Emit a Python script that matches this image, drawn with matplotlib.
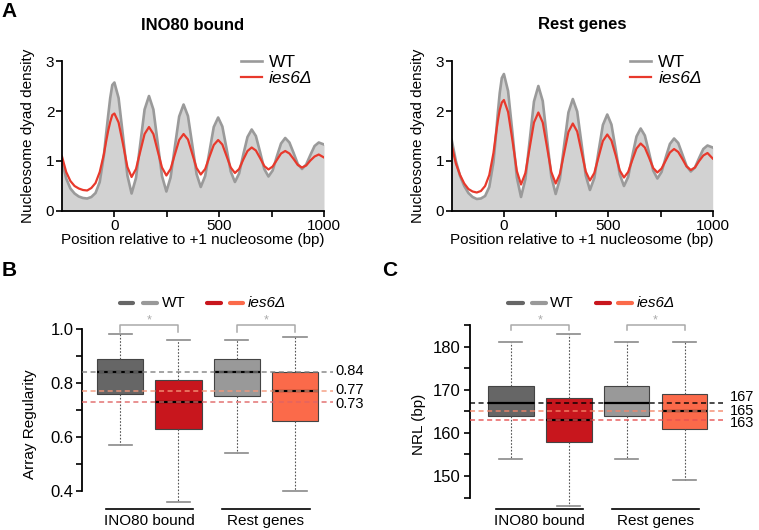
import numpy as np
import matplotlib.pyplot as plt

plt.rcParams['font.family'] = ['Liberation Sans', 'DejaVu Sans']

# --- Panel A: nucleosome dyad density profiles ---
x_bp = [-250, -230, -210, -190, -170, -150, -130, -110, -90, -70, -50, -40, -30, -20, -10, 0,
        20, 41, 62, 82, 103, 124, 144, 165,
        186, 206, 227, 248, 268, 289, 309, 330,
        351, 371, 392, 412, 433, 454, 474, 495,
        515, 535, 555, 575, 595, 615, 635, 655,
        675, 695, 715, 735, 755, 775, 795, 815,
        835, 855, 875, 895, 915, 935, 955, 975, 1000]

ino80_wt = [1.00, 0.65, 0.45, 0.35, 0.29, 0.26, 0.25, 0.28, 0.36, 0.58, 1.12, 1.52, 1.90, 2.26, 2.52, 2.57,
            2.26, 1.50, 0.71, 0.35, 0.66, 1.36, 2.03, 2.30,
            2.03, 1.38, 0.70, 0.39, 0.67, 1.30, 1.89, 2.13,
            1.90, 1.34, 0.74, 0.48, 0.70, 1.20, 1.68, 1.87,
            1.69, 1.25, 0.79, 0.58, 0.75, 1.13, 1.48, 1.63,
            1.50, 1.18, 0.84, 0.69, 0.81, 1.09, 1.35, 1.46,
            1.37, 1.16, 0.94, 0.84, 0.93, 1.12, 1.30, 1.37, 1.33]

ino80_ies6 = [1.09, 0.78, 0.60, 0.50, 0.45, 0.42, 0.41, 0.46, 0.56, 0.78, 1.14, 1.38, 1.60, 1.78, 1.92, 1.95,
              1.77, 1.34, 0.88, 0.68, 0.84, 1.20, 1.54, 1.68,
              1.54, 1.21, 0.87, 0.71, 0.84, 1.14, 1.42, 1.54,
              1.43, 1.15, 0.86, 0.73, 0.84, 1.09, 1.32, 1.42,
              1.33, 1.10, 0.87, 0.76, 0.84, 1.03, 1.20, 1.27,
              1.21, 1.06, 0.90, 0.83, 0.89, 1.02, 1.15, 1.20,
              1.15, 1.04, 0.92, 0.87, 0.91, 1.01, 1.09, 1.13, 1.07]

rest_wt = [1.42, 1.00, 0.70, 0.50, 0.36, 0.28, 0.24, 0.25, 0.30, 0.48, 0.98, 1.42, 1.92, 2.36, 2.66, 2.74,
           2.40, 1.56, 0.67, 0.28, 0.64, 1.43, 2.19, 2.50,
           2.20, 1.46, 0.69, 0.34, 0.64, 1.33, 1.97, 2.24,
           1.99, 1.37, 0.71, 0.42, 0.66, 1.21, 1.72, 1.93,
           1.73, 1.24, 0.73, 0.50, 0.68, 1.10, 1.49, 1.65,
           1.51, 1.17, 0.81, 0.65, 0.78, 1.07, 1.34, 1.45,
           1.36, 1.13, 0.90, 0.79, 0.87, 1.06, 1.24, 1.31, 1.27]

rest_ies6 = [1.31, 0.95, 0.72, 0.55, 0.44, 0.39, 0.37, 0.40, 0.50, 0.72, 1.16, 1.48, 1.78, 2.02, 2.17, 2.22,
             1.98, 1.41, 0.80, 0.53, 0.76, 1.28, 1.77, 1.97,
             1.77, 1.29, 0.78, 0.55, 0.74, 1.17, 1.58, 1.75,
             1.59, 1.20, 0.79, 0.61, 0.76, 1.09, 1.40, 1.53,
             1.41, 1.12, 0.81, 0.67, 0.78, 1.02, 1.25, 1.35,
             1.27, 1.07, 0.86, 0.77, 0.85, 1.01, 1.17, 1.24,
             1.18, 1.04, 0.89, 0.82, 0.87, 1.00, 1.11, 1.16, 1.05]

# --- Panels B and C: box statistics (whislo, q1, med, q3, whishi) ---
box_names = ['INO80 WT', 'INO80 ies6', 'Rest WT', 'Rest ies6']
regularity_stats = [[0.57, 0.76, 0.84, 0.89, 0.98],
                    [0.36, 0.63, 0.73, 0.81, 0.96],
                    [0.54, 0.75, 0.84, 0.89, 0.96],
                    [0.40, 0.66, 0.77, 0.84, 0.97]]
regularity_lines = [0.84, 0.77, 0.73]
regularity_labels = ['0.84', '0.77', '0.73']

nrl_stats = [[154, 164, 167, 171, 181],
             [143, 158, 163, 168, 183],
             [154, 164, 167, 171, 181],
             [149, 161, 165, 169, 181]]
nrl_lines = [167, 165, 163]
nrl_labels = ['167', '165', '163']

group_names = ['INO80 bound', 'Rest genes']

box_colors = ['#666666', '#c8161d', '#999999', '#fb6a4a']
wt_gray = '#9a9a9a'
ies6_red = '#e8392c'

fig = plt.figure(figsize=(7.59, 5.30), dpi=100)
W, H = 759.0, 530.0


def profile_panel(rect, title, wt, ies6, title_x):
    ax = fig.add_axes(rect)
    ax.fill_between(x_bp, wt, 0, color='#d2d2d2', lw=0)
    ax.plot(x_bp, wt, color=wt_gray, lw=1.9, label='WT')
    ax.plot(x_bp, ies6, color=ies6_red, lw=1.6, label='ies6Δ')
    ax.set_xlim(-250, 1000)
    ax.set_ylim(0, 3)
    ax.set_xticks([0, 250, 500, 750, 1000])
    ax.set_xticklabels(['0', '', '500', '', '1000'])
    ax.set_yticks([0, 1, 2, 3])
    ax.tick_params(labelsize=11, length=4, width=1.2, pad=1.5)
    for s in ['top', 'right']:
        ax.spines[s].set_visible(False)
    for s in ['left', 'bottom']:
        ax.spines[s].set_linewidth(1.3)
    leg = ax.legend(loc='upper left', bbox_to_anchor=(0.655, 1.085), frameon=False,
                    fontsize=12.5, handlelength=1.25, handletextpad=0.4,
                    labelspacing=0.05, borderaxespad=0)
    leg.get_texts()[1].set_style('italic')
    ax.set_xlabel('Position relative to +1 nucleosome (bp)', fontsize=11, labelpad=0)
    fig.text(title_x / W, 1 - 25 / H, title, ha='center', va='center',
             fontsize=12, fontweight='bold')
    return ax


ax_a1 = profile_panel([62 / W, 1 - 211 / H, 262 / W, 150 / H], 'INO80 bound',
                      ino80_wt, ino80_ies6, 193)
ax_a2 = profile_panel([451.7 / W, 1 - 211 / H, 261 / W, 150 / H], 'Rest genes',
                      rest_wt, rest_ies6, 582)
fig.text(28 / W, 1 - 136 / H, 'Nucleosome dyad density', rotation=90,
         ha='center', va='center', fontsize=11)
fig.text(418 / W, 1 - 136 / H, 'Nucleosome dyad density', rotation=90,
         ha='center', va='center', fontsize=11)


def box_panel(rect, stats, xlim, ylim, bounds, major, minor, ref_vals, ref_labels,
              ref_colors, label_x, label_y, bracket, leg_y, leg_x, group_y, ylabel, ylabel_x):
    ax = fig.add_axes(rect)
    bxp_stats = []
    for name, s in zip(box_names, stats):
        bxp_stats.append({'label': name, 'whislo': s[0], 'q1': s[1], 'med': s[2],
                          'q3': s[3], 'whishi': s[4], 'fliers': []})
    parts = ax.bxp(bxp_stats, positions=[1, 2, 3, 4], widths=0.79, patch_artist=True,
                   showfliers=False, capwidths=0.4,
                   boxprops=dict(edgecolor='#444444', linewidth=0.8),
                   whiskerprops=dict(color='#555555', linewidth=0.8, linestyle=(0, (1.5, 1.5))),
                   capprops=dict(color='#8a8a8a', linewidth=1.2),
                   medianprops=dict(color='black', linewidth=1.6))
    for patch, c in zip(parts['boxes'], box_colors):
        patch.set_facecolor(c)

    for v, c in zip(ref_vals, ref_colors):
        ax.axhline(v, color=c, lw=1.1, ls=(0, (3.3, 2.3)), zorder=5, alpha=0.9)
    for lab, ly in zip(ref_labels, label_y):
        ax.text(label_x, ly, lab, ha='left', va='center', fontsize=10.5, clip_on=False)

    # significance brackets
    b_top, b_low, star_y = bracket
    for x0, x1 in [(1, 2), (3, 4)]:
        ax.plot([x0, x0, x1, x1], [b_low, b_top, b_top, b_low], color='#aaaaaa',
                lw=1.1, clip_on=False)
        ax.text((x0 + x1) / 2, star_y, '*', color='#aaaaaa', ha='center', va='center',
                fontsize=9)

    # legend drawn as paired dashes
    pairs = [(leg_x[0], box_colors[0]), (leg_x[1], box_colors[2]),
             (leg_x[3], box_colors[1]), (leg_x[4], box_colors[3])]
    for (x0, x1), c in pairs:
        ax.plot([x0, x1], [leg_y, leg_y], color=c, lw=3, solid_capstyle='round',
                clip_on=False)
    ax.text(leg_x[2], leg_y, 'WT', ha='left', va='center', fontsize=11, clip_on=False)
    ax.text(leg_x[5], leg_y, 'ies6Δ', ha='left', va='center', fontsize=11,
            style='italic', clip_on=False)

    # group underlines and names
    line_y, text_y = group_y
    for cx, name in zip([1.5, 3.5], group_names):
        ax.plot([cx - 0.75, cx + 0.75], [line_y, line_y], color='black', lw=1.2,
                clip_on=False)
        ax.text(cx, text_y, name, ha='center', va='center', fontsize=11)

    ax.set_xlim(*xlim)
    ax.set_ylim(*ylim)
    ax.set_xticks([])
    ax.set_yticks(major)
    ax.set_yticks(minor, minor=True)
    ax.tick_params(which='both', length=4.5, width=1.2, labelsize=12, pad=2)
    for s in ['top', 'right', 'bottom']:
        ax.spines[s].set_visible(False)
    ax.spines['left'].set_bounds(*bounds)
    ax.spines['left'].set_linewidth(1.3)
    fig.text(ylabel_x / W, 1 - 424 / H, ylabel, rotation=90, ha='center', va='center',
             fontsize=11)
    return ax


ax_b = box_panel([82.3 / W, 1 - 506.9 / H, 250.7 / W, 194.1 / H], regularity_stats,
                 (0.35, 4.65), (0.34, 1.06), (0.4, 1.0),
                 [0.4, 0.6, 0.8, 1.0], [0.5, 0.7, 0.9],
                 regularity_lines, regularity_labels, ['#7f7f7f', '#f4977a', '#e06464'],
                 4.69, [0.845, 0.773, 0.723], (1.015, 0.99, 1.033),
                 1.0965, [(1.0, 1.22), (1.39, 1.63), 1.72, (2.49, 2.73), (2.88, 3.11), 3.19],
                 (0.331, 0.289), 'Array Regularity', 30)
ax_b.set_yticklabels(['0.4', '0.6', '0.8', '1.0'])

ax_c = box_panel([470 / W, 1 - 510.5 / H, 253.3 / W, 191.8 / H], nrl_stats,
                 (0.295, 4.67), (142, 186.5), (145, 185),
                 [150, 160, 170, 180], [145, 155, 165, 175, 185],
                 nrl_lines, nrl_labels, ['#000000', '#f4866a', '#e65050'],
                 4.785, [168.3, 165.1, 162.2], (185.0, 183.9, 186.2),
                 190.07, [(0.95, 1.21), (1.36, 1.61), 1.68, (2.47, 2.71), (2.85, 3.1), 3.17],
                 (142.27, 139.6), 'NRL (bp)', 419)

fig.text(9 / W, 1 - 11.5 / H, 'A', fontsize=15, fontweight='bold', ha='center', va='center')
fig.text(9 / W, 1 - 271 / H, 'B', fontsize=15, fontweight='bold', ha='center', va='center')
fig.text(390 / W, 1 - 271 / H, 'C', fontsize=15, fontweight='bold', ha='center', va='center')

fig.savefig('out.png', dpi=100)
